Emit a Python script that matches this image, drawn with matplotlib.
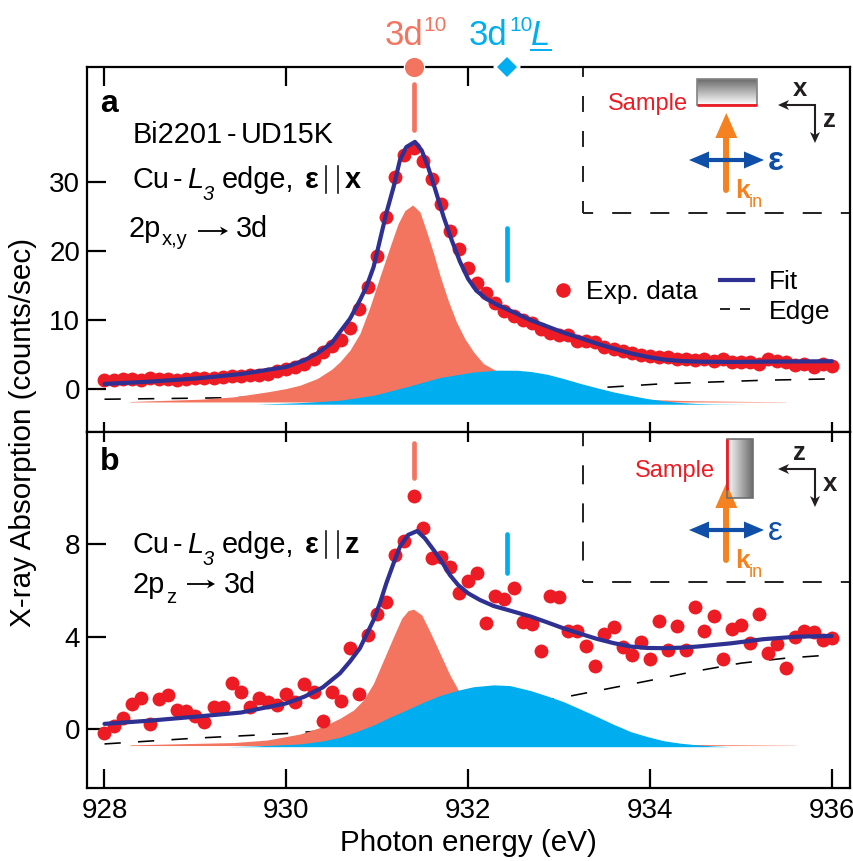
import numpy as np
import matplotlib
matplotlib.use('Agg')
import matplotlib.pyplot as plt
from matplotlib.patches import Rectangle
from matplotlib.lines import Line2D

plt.rcParams['font.family'] = ['Liberation Sans', 'DejaVu Sans']

# measured points, 0.1 eV step
energia = [928.0 + i * 0.1 for i in range(81)]
dados_a = [1.3, 1.4, 1.45, 1.5, 1.4, 1.6, 1.45, 1.5, 1.4, 1.5,
           1.6, 1.65, 1.6, 1.75, 1.9, 1.95, 2.05, 2.05, 2.15, 2.7,
           3.0, 3.2, 3.7, 4.4, 5.4, 6.2, 7.1, 8.9, 11.6, 14.8,
           19.3, 25.0, 30.8, 34.0, 34.9, 33.1, 30.4, 26.8, 22.9, 20.3,
           17.5, 15.4, 13.9, 12.5, 11.4, 10.6, 10.1, 9.6, 8.8, 8.1,
           7.8, 7.8, 7.0, 7.0, 6.9, 6.1, 5.9, 5.6, 5.3, 4.9,
           4.8, 4.7, 4.6, 4.4, 4.4, 4.2, 4.4, 4.1, 4.4, 3.9,
           4.0, 4.0, 3.6, 4.4, 4.1, 3.9, 3.5, 3.6, 3.2, 3.7, 3.3]
dados_b = [-0.19, 0.13, 0.46, 1.07, 1.33, 0.22, 1.30, 1.45, 0.82, 0.79,
           0.58, 0.32, 0.94, 0.94, 2.01, 1.58, 0.94, 1.36, 1.18, 1.04,
           1.52, 1.16, 1.94, 1.62, 0.35, 1.59, 1.23, 3.50, 1.52, 4.08,
           4.99, 5.49, 7.54, 8.16, 10.1, 8.70, 7.40, 7.47, 7.04, 5.91,
           6.42, 6.78, 4.58, 5.78, 5.62, 6.10, 4.65, 4.54, 3.38, 5.78,
           5.72, 4.26, 4.26, 3.61, 2.72, 4.12, 4.41, 3.55, 3.22, 3.76,
           3.03, 4.68, 3.42, 4.48, 3.42, 5.30, 4.25, 4.88, 3.03, 4.32,
           4.49, 3.74, 5.00, 3.27, 3.67, 2.62, 3.97, 4.25, 4.18, 3.86, 3.93]

# fit curves
fit_a_x = [928.0, 928.5, 929.0, 929.5, 930.0, 930.2, 930.34, 930.5, 930.59, 930.70, 930.81, 930.88, 930.96,
           931.03, 931.10, 931.18, 931.25, 931.32, 931.415, 931.49, 931.56, 931.635, 931.73, 931.82, 931.91,
           932.0, 932.09, 932.2, 932.31, 932.46, 932.69, 932.87, 933.05, 933.24, 933.42, 933.6, 933.79,
           933.97, 934.15, 934.33, 934.52, 934.9, 935.25, 935.6, 936.0]
fit_a_y = [0.77, 1.1, 1.55, 2.2, 3.24, 4.2, 5.2, 6.7, 8.3, 10.2, 12.9, 14.8, 17.7,
           21.6, 25.5, 29.3, 33.2, 35.1, 35.85, 34.6, 32.2, 29.1, 25.0, 21.6, 18.5,
           16.0, 14.3, 13.1, 12.3, 11.4, 10.0, 9.1, 8.2, 7.4, 6.6, 5.9, 5.2,
           4.7, 4.3, 4.1, 4.0, 3.95, 4.0, 4.02, 4.06]
fit_b_x = [928.0, 928.5, 929.0, 929.5, 929.8, 930.0, 930.2, 930.4, 930.59, 930.70, 930.81, 930.88, 930.96,
           931.03, 931.10, 931.18, 931.25, 931.34, 931.44, 931.525, 931.62, 931.71, 931.8, 931.89, 932.0,
           932.13, 932.28, 932.46, 932.69, 932.87, 933.05, 933.24, 933.42, 933.6, 933.79, 933.97, 934.15,
           934.33, 934.52, 934.89, 935.25, 935.62, 936.0]
fit_b_y = [0.22, 0.36, 0.53, 0.71, 0.95, 1.11, 1.4, 1.8, 2.41, 2.92, 3.5, 4.07, 4.72,
           5.45, 6.31, 7.18, 7.9, 8.41, 8.58, 8.26, 7.76, 7.25, 6.67, 6.24, 5.88,
           5.59, 5.33, 5.13, 4.87, 4.62, 4.36, 4.12, 3.90, 3.72, 3.57, 3.51, 3.50,
           3.52, 3.57, 3.71, 3.89, 4.0, 4.03]

# edge step
edge_a_x = [928.0, 929.0, 930.0, 931.0, 932.0, 933.42, 934.15, 935.25, 936.0]
edge_a_y = [-1.45, -1.3, -1.1, -0.8, -0.4, 0.2, 0.8, 1.3, 1.5]
edge_b_x = [928.0, 929.0, 930.0, 931.0, 932.0, 933.0, 934.0, 934.5, 935.0, 935.5, 936.0]
edge_b_y = [-0.65, -0.4, -0.2, 0.1, 0.7, 1.33, 2.1, 2.5, 2.85, 3.07, 3.21]

# 3d10 peak
pico_a_x = [928.28, 929.05, 929.42, 929.79, 930.0, 930.15, 930.34, 930.5, 930.59, 930.70, 930.81, 930.92, 931.03,
            931.14, 931.23, 931.305, 931.39, 931.47, 931.54, 931.62, 931.69, 931.78, 931.87, 931.965, 932.06,
            932.17, 932.3, 932.6, 933.0, 933.5, 934.0, 934.5, 935.0, 935.5]
pico_a_y = [-1.78, -1.45, -1.11, -0.39, 0.10, 0.58, 1.55, 2.9, 3.97, 5.66, 8.07, 11.9, 16.3,
            20.6, 24.0, 25.9, 26.7, 25.7, 23.0, 19.7, 16.5, 12.9, 9.8, 7.3, 5.4,
            3.7, 2.76, 1.2, 0.0, -1.0, -1.5, -1.68, -1.76, -1.82]
pico_b_x = [928.28, 929.42, 929.79, 930.15, 930.4, 930.59, 930.74, 930.85, 930.96, 931.07, 931.18, 931.27, 931.34,
            931.40, 931.49, 931.58, 931.69, 931.8, 931.9, 932.1, 932.5, 933.0, 933.5, 934.0, 935.0, 935.6]
pico_b_y = [-0.69, -0.59, -0.48, -0.22, 0.1, 0.46, 0.82, 1.26, 1.98, 2.99, 4.0, 4.8, 5.13,
            5.19, 4.94, 4.22, 3.28, 2.34, 1.62, 1.0, 0.1, -0.35, -0.58, -0.66, -0.69, -0.71]

# 3d10L peak
lig_a_x = [929.68, 930.15, 930.4, 930.59, 930.96, 931.32, 931.69, 932.06, 932.31, 932.54, 932.7, 932.87,
           933.05, 933.24, 933.42, 933.6, 933.79, 933.97, 934.16, 934.34, 934.52, 934.7, 935.1]
lig_a_y = [-2.17, -1.95, -1.75, -1.59, -0.87, 0.34, 1.7, 2.5, 2.76, 2.75, 2.55, 2.17,
           1.55, 0.82, 0.2, -0.39, -0.9, -1.35, -1.7, -1.93, -2.07, -2.13, -2.17]
lig_b_x = [929.35, 929.64, 930.15, 930.4, 930.59, 930.77, 930.96, 931.14, 931.32, 931.51, 931.69, 931.9,
           932.06, 932.28, 932.46, 932.69, 932.87, 933.05, 933.24, 933.42, 933.6, 933.79, 933.97, 934.15,
           934.34, 934.52, 934.7, 934.88, 935.36]
lig_b_y = [-0.77, -0.74, -0.65, -0.52, -0.36, -0.115, 0.17, 0.51, 0.82, 1.16, 1.45, 1.69,
           1.83, 1.91, 1.88, 1.66, 1.43, 1.18, 0.85, 0.53, 0.2, -0.12, -0.33, -0.51,
           -0.62, -0.69, -0.74, -0.77, -0.77]

base_a = -2.17
base_b = -0.77
base_pico_a = -1.85
base_pico_b = -0.72
picos = [931.4, 932.43]
xticks = [928, 930, 932, 934, 936]
yticks_a = [0, 10, 20, 30]
yticks_b = [0, 4, 8]

salmao = '#F37560'
azul = '#00AEEF'
vermelho = '#ED1C24'
marinho = '#2E3192'
laranja = '#F58220'
azul2 = '#0F4FA8'
preto = '#231F20'
FS = 20
FL = 21.3
FA = 20.8
LW = 1.6

W, H = 854, 861
fig = plt.figure(figsize=(W / 100, H / 100), dpi=100)
x0, x1 = 87, 850
y_top, y_mid, y_bot = 67, 432, 788
ax_a = fig.add_axes([x0 / W, 1 - y_mid / H, (x1 - x0) / W, (y_mid - y_top) / H])
ax_b = fig.add_axes([x0 / W, 1 - y_bot / H, (x1 - x0) / W, (y_bot - y_mid) / H])
xlim = (928 + (x0 - 104.5) / 90.9, 928 + (x1 - 104.5) / 90.9)
ax_a.set_ylim(-6.2, 46.7)
ax_b.set_ylim(-2.56, 12.87)

tick_longo = 13.7
tick_curto = 7.5


def painel(ax, edge_x, edge_y, pico_x, pico_y, base_pico, lig_x, lig_y, base, dados, fit_x, fit_y, barras):
    ax.set_xlim(xlim)
    ax.plot(edge_x, edge_y, color='black', lw=1.15, dashes=(10.2, 10.8), zorder=1.7)
    ax.fill_between(pico_x, base_pico, pico_y, color=salmao, lw=0, zorder=1.8)
    ax.fill_between(lig_x, base, lig_y, color=azul, lw=0, zorder=1.9)
    ax.plot(energia, dados, 'o', color=vermelho, ms=10, mew=0, zorder=2.2)
    ax.plot(fit_x, fit_y, color=marinho, lw=3, zorder=2.4, solid_capstyle='round', solid_joinstyle='round')
    ax.plot([picos[0], picos[0]], barras[0], color=salmao, lw=3.4, solid_capstyle='round', zorder=2.3)
    ax.plot([picos[1], picos[1]], barras[1], color=azul, lw=3.4, solid_capstyle='round', zorder=2.3)
    for s in ax.spines.values():
        s.set_linewidth(LW)
        s.set_zorder(4)


painel(ax_a, edge_a_x, edge_a_y, pico_a_x, pico_a_y, base_pico_a, lig_a_x, lig_a_y, base_a,
       dados_a, fit_a_x, fit_a_y, [(37.5, 44.3), (15.9, 23.3)])
painel(ax_b, edge_b_x, edge_b_y, pico_b_x, pico_b_y, base_pico_b, lig_b_x, lig_b_y, base_b,
       dados_b, fit_b_x, fit_b_y, [(10.87, 12.39), (6.75, 8.45)])

# top panel: long ticks above, short ones on the shared line
ax_a.set_xticks(xticks)
ax_a.tick_params(axis='x', direction='in', top=True, bottom=False, labelbottom=False,
                 length=tick_longo, width=LW)
sec = ax_a.secondary_xaxis('bottom')
sec.set_xticks(xticks)
sec.tick_params(axis='x', direction='in', length=tick_curto, width=LW, labelbottom=False)
sec.spines['bottom'].set_visible(False)

ax_b.set_xticks(xticks)
ax_b.tick_params(axis='x', direction='in', length=tick_longo, width=LW, labelsize=FS, pad=7)
sec = ax_b.secondary_xaxis('top')
sec.set_xticks(xticks)
sec.tick_params(axis='x', direction='in', length=tick_curto, width=LW, labeltop=False)
sec.spines['top'].set_visible(False)

ax_a.set_yticks(yticks_a)
ax_b.set_yticks(yticks_b)
for ax in (ax_a, ax_b):
    ax.tick_params(axis='y', direction='in', length=tick_longo, width=LW, labelsize=FS, pad=5)

ax_b.set_xlabel('Photon energy (eV)', fontsize=FL, labelpad=4)
fig.text(23 / W, 1 - 432 / H, 'X-ray Absorption (counts/sec)', rotation=90, fontsize=FL,
         ha='center', va='center')

# white box of the inset in panel a hides the top ticks
ax_a.add_patch(Rectangle((0.6497, 0.6), 0.3503, 0.4, transform=ax_a.transAxes, fc='white', ec='none', zorder=3))

# markers on the top edge
tr = ax_a.get_xaxis_transform()
ax_a.plot([picos[0]], [1], 'o', color='white', ms=15.5, mew=0, clip_on=False, zorder=5, transform=tr)
ax_a.plot([picos[0]], [1], 'o', color=salmao, ms=13.8, mew=0, clip_on=False, zorder=6, transform=tr)
ax_a.plot([picos[1]], [1], 'D', color='white', ms=14, mew=0, clip_on=False, zorder=5, transform=tr)
ax_a.plot([picos[1]], [1], 'D', color=azul, ms=10.2, mew=0, clip_on=False, zorder=6, transform=tr)

# legends
h1 = [Line2D([], [], marker='o', ls='none', color=vermelho, ms=10.5, mew=0)]
leg = ax_a.legend(h1, ['Exp. data'], loc='center left', bbox_to_anchor=((547 - x0) / (x1 - x0), (432 - 292) / 365),
                  frameon=False, fontsize=19, handletextpad=0.26, handlelength=1.2, borderpad=0, borderaxespad=0)
ax_a.add_artist(leg)
h2 = [Line2D([], [], color=marinho, lw=3), Line2D([], [], color='black', lw=1.2, dashes=(6, 6))]
ax_a.legend(h2, ['Fit', 'Edge'], loc='center left', bbox_to_anchor=((720 - x0) / (x1 - x0), (432 - 297) / 365),
            frameon=False, fontsize=19, handlelength=1.25, handletextpad=0.6, labelspacing=0.2,
            borderpad=0, borderaxespad=0)

# everything decorative in pixel coordinates
ov = fig.add_axes([0, 0, 1, 1], zorder=10)
ov.axis('off')
ov.patch.set_alpha(0)


def T(x, y, s, **kw):
    kw.setdefault('fontsize', FA)
    kw.setdefault('va', 'baseline')
    kw.setdefault('ha', 'left')
    ov.text(x, y, s, **kw)


def cabeca(xp, yp, dx, dy, comp, meia, cor, recuo=0.0):
    # arrow head as a filled polygon, tip at (xp, yp), pointing along (dx, dy)
    bx, by = xp - dx * comp, yp - dy * comp
    nx, ny = -dy, dx
    ov.fill([xp, bx + nx * meia, bx + dx * recuo, bx - nx * meia],
            [yp, by + ny * meia, by + dy * recuo, by - ny * meia], color=cor, lw=0)


T(385, 45, '3d', fontsize=25, color=salmao)
T(423, 31, '10', fontsize=15, color=salmao)
T(469, 45, '3d', fontsize=25, color=azul)
T(509, 31, '10', fontsize=15, color=azul)
T(531, 45, 'L', fontsize=25, color=azul, style='italic')
ov.plot([531, 551], [49.5, 49.5], color=azul, lw=1.4)

T(100, 112, 'a', fontsize=23, fontweight='bold')
T(100, 470, 'b', fontsize=23, fontweight='bold')
T(133, 143, 'Bi2201')
T(227, 143, '-')
T(241, 143, 'UD15K')

for yb, s in ((188, 'x'), (553, 'z')):
    T(133, yb, 'Cu')
    T(173, yb, '-')
    T(187, yb, 'L', style='italic')
    T(203, yb + 12, '3', fontsize=14.5, style='italic')
    T(222, yb, 'edge,')
    T(305, yb, 'ε', fontweight='bold')
    ov.plot([326, 326], [yb - 22, yb + 5], color='black', lw=1.1)
    ov.plot([338, 338], [yb - 22, yb + 5], color='black', lw=1.1)
    T(345, yb, s, fontweight='bold')

T(129, 237, '2p')
T(162, 245, 'x,y', fontsize=14.5)
T(236, 237, '3d')
T(133, 593, '2p')
T(166, 603, 'z', fontsize=14.5)
T(224, 593, '3d')
for xa, xb, yc in ((198, 228, 231), (187, 215, 584)):
    ov.plot([xa, xb - 4], [yc, yc], color='black', lw=1.3, solid_capstyle='butt')
    cabeca(xb, yc, 1, 0, 8, 4.5, 'black', recuo=2.5)

# inset borders
ov.plot([583.3, 583.3], [68, 212.7], color=preto, lw=1.4, ls=(3.6, (8.2, 9.8)))
ov.plot([583.3, 849], [212.7, 212.7], color=preto, lw=1.4, ls=(4.6, (9.8, 9.8)))
ov.plot([583.3, 583.3], [433, 582.3], color=preto, lw=1.4, ls=(3.0, (9.8, 9.8)))
ov.plot([583.3, 849], [582.3, 582.3], color=preto, lw=1.4, ls=(4.6, (9.8, 9.8)))

ov.imshow(np.linspace(0.42, 1, 64)[:, None], cmap='gray', vmin=0, vmax=1, extent=(697, 757, 105, 79),
          aspect='auto', zorder=1, origin='upper')
ov.imshow(np.linspace(1, 0.42, 64)[None, :], cmap='gray', vmin=0, vmax=1, extent=(727, 753, 498, 439),
          aspect='auto', zorder=1)
ov.add_patch(Rectangle((697, 79), 60, 26, fc='none', ec='#808285', lw=1.2, zorder=2))
ov.add_patch(Rectangle((727, 439), 26, 59, fc='none', ec='#6D6E71', lw=1.2, zorder=2))
ov.plot([697, 757], [105, 105], color=vermelho, lw=2, zorder=3, solid_capstyle='butt')
ov.plot([727, 727], [439, 490], color=vermelho, lw=2, zorder=3, solid_capstyle='butt')
T(608, 110, 'Sample', fontsize=17, color=vermelho)
T(635, 477, 'Sample', fontsize=17, color=vermelho)

for yc, ya, yt, bold in ((160, 190, 113, True), (530, 560, 483, False)):
    ov.plot([726.3, 726.3], [ya, yt + 20], color=laranja, lw=4.3, solid_capstyle='round', zorder=3.5)
    cabeca(726.3, yt, 0, -1, 25, 11, laranja)
    ov.plot([700, 753], [yc, yc], color=azul2, lw=3, solid_capstyle='butt', zorder=4)
    cabeca(689, yc, -1, 0, 20, 8.5, azul2)
    cabeca(764, yc, 1, 0, 20, 8.5, azul2)
    T(768, yc + 10, 'ε', fontsize=24, color=azul2, fontweight='bold' if bold else 'normal')
    T(735, ya + 8, 'k', fontsize=19, color=laranja, fontweight='bold')
    T(749, ya + 17, 'in', fontsize=13, color=laranja)

for yc, s1, s2 in ((105, 'x', 'z'), (469, 'z', 'x')):
    ov.plot([815, 785], [yc, yc], color=preto, lw=1.5, solid_capstyle='butt')
    ov.plot([815, 815], [yc - 0.7, yc + 31], color=preto, lw=1.5, solid_capstyle='butt')
    cabeca(778, yc, -1, 0, 11, 5, preto, recuo=3)
    cabeca(815, yc + 38, 0, 1, 11, 5, preto, recuo=3)
    T(793, yc - 9, s1, fontsize=18.5, fontweight='bold', color=preto)
    T(823, yc + 22, s2, fontsize=18.5, fontweight='bold', color=preto)

ov.set_xlim(0, W)
ov.set_ylim(H, 0)

fig.savefig('out.png', dpi=100)
